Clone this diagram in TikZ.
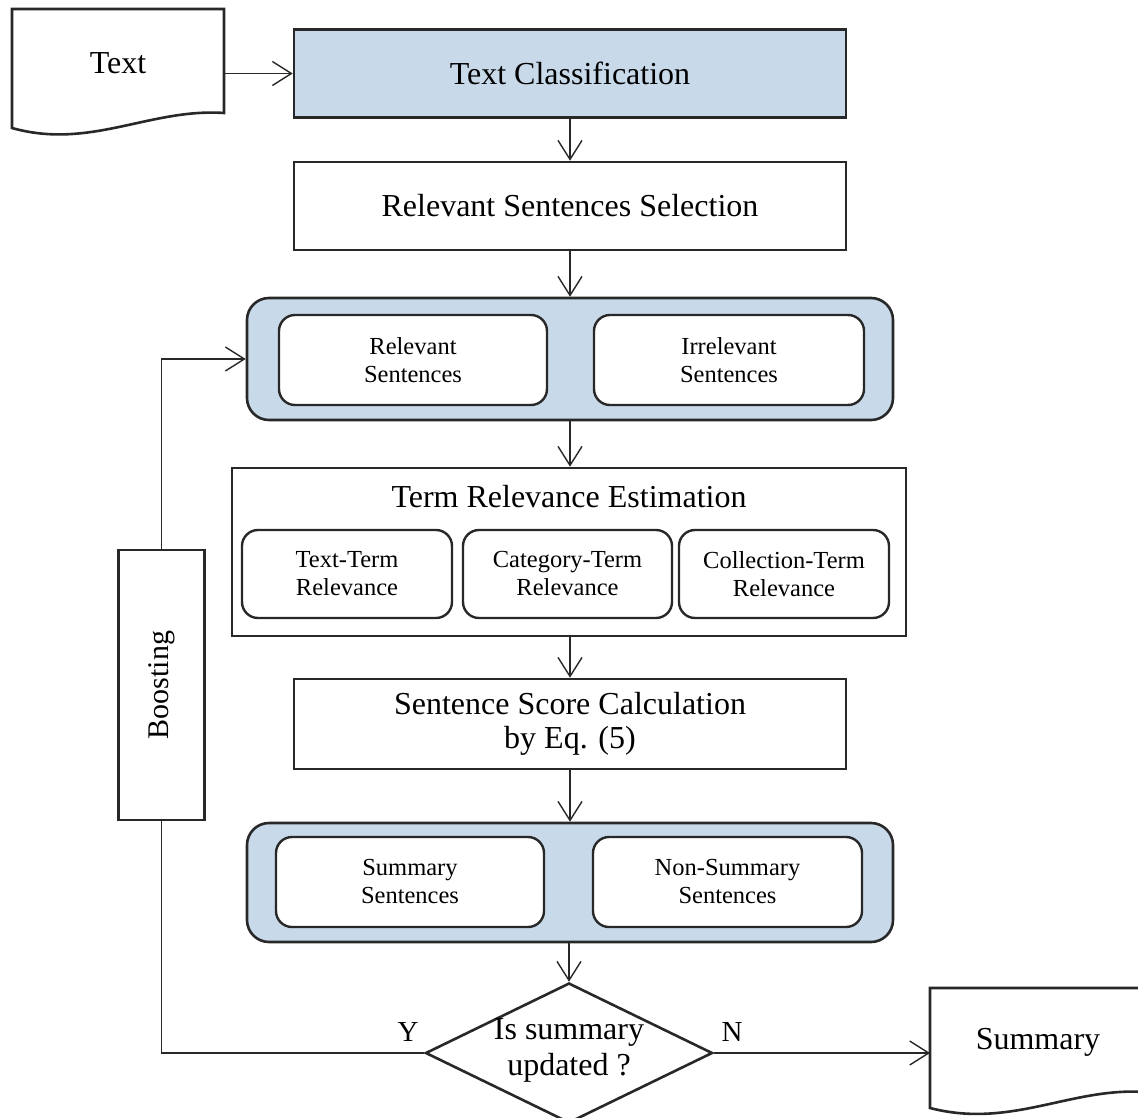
\documentclass[tikz,border=0pt]{standalone}
\usepackage{fontspec}
\usepackage{graphicx}
\setmainfont{Liberation Serif}
\usetikzlibrary{arrows.meta,shapes.geometric}
\definecolor{stageblue}{RGB}{200,217,233}
\definecolor{edgegray}{RGB}{40,40,40}
\newcommand{\bigtxt}{\fontsize{32}{34}\selectfont}
\newcommand{\smalltxt}{\fontsize{24.5}{28}\selectfont}
\newcommand{\ynfont}{\fontsize{29}{31}\selectfont}
\begin{document}
\begin{tikzpicture}[x=1pt,y=-1pt,
  box/.style={draw=edgegray, line width=2.6pt, rectangle, align=center, inner sep=0pt, font=\bigtxt},
  group/.style={draw=edgegray, line width=2.6pt, fill=stageblue, rounded corners=22pt, inner sep=0pt},
  sub/.style={draw=edgegray, line width=2.4pt, fill=white, rounded corners=16pt, align=center, inner sep=0pt, font=\smalltxt},
  conn/.style={draw=edgegray, line width=1.4pt},
  arr/.style={-{Straight Barb[length=19pt,width=24pt,line width=1.4pt]}},
  doc/.style={draw=edgegray, line width=2.6pt, fill=white},
  plain/.style={inner sep=0pt, align=center, font=\bigtxt}
]
\clip (0,0) rectangle (1138,1118);
\fill[white] (0,0) rectangle (1138,1118);

% input document
\draw[doc] (12,9) -- (224,9) -- (224,113)
  .. controls (150,108) and (90,150) .. (12,128) -- cycle;
\node[plain] (textdoc) at (118,63) {Text};
\coordinate (textout) at (224,73.5);

% main pipeline
\node[box, fill=stageblue, minimum width=552pt, minimum height=88pt] (tc) at (570,73.5) {Text Classification};
\node[box, minimum width=552pt, minimum height=88pt] (rss) at (570,206) {Relevant Sentences Selection};

\node[group, minimum width=646pt, minimum height=122pt] (grp1) at (570,359) {};
\node[sub, minimum width=268pt, minimum height=90pt] (rel) at (413,360) {Relevant\\Sentences};
\node[sub, minimum width=270pt, minimum height=90pt] (irr) at (729,360) {Irrelevant\\Sentences};

\node[box, minimum width=674pt, minimum height=168pt] (tre) at (569,552) {};
\node[plain] (tretitle) at (569,497) {Term Relevance Estimation};
\node[sub, minimum width=210pt, minimum height=88pt] (ttr) at (347,574) {Text-Term\\Relevance};
\node[sub, minimum width=209pt, minimum height=88pt] (ctr) at (567.5,574) {Category-Term\\Relevance};
\node[sub, minimum width=210pt, minimum height=88pt] (cotr) at (784,574) {Collection-Term\\Relevance};

\node[box, minimum width=552pt, minimum height=90pt] (score) at (570,724) {Sentence Score Calculation\\by Eq. (5)};

\node[group, minimum width=646pt, minimum height=119pt] (grp2) at (570,882.5) {};
\node[sub, minimum width=268pt, minimum height=90pt] (summ) at (410,882) {Summary\\Sentences};
\node[sub, minimum width=269pt, minimum height=90pt] (nonsumm) at (727.5,882) {Non-Summary\\Sentences};

% decision
\node[diamond, draw=edgegray, line width=2.6pt, minimum width=287pt, minimum height=140pt, inner sep=0pt] (dec) at (569,1053) {};
\node[plain, font=\fontsize{32}{36}\selectfont] (dectext) at (569,1050) {Is summary\\updated ?};
\node[plain, font=\ynfont] (ylab) at (408,1032) {Y};
\node[plain, font=\ynfont] (nlab) at (732,1032) {N};

% boosting loop
\node[box, minimum width=86pt, minimum height=270pt] (boost) at (161.5,685) {\fontsize{30}{32}\selectfont\rotatebox{90}{Boosting}};

% output document
\draw[doc] (930,988) -- (1145,988) -- (1145,1092)
  .. controls (1071,1087) and (1011,1129) .. (930,1108) -- cycle;
\node[plain] (sumdoc) at (1038,1042) {Summary};
\coordinate (sumin) at (930,1053);

% connectors
\draw[conn, arr] (textout) -- (tc.west);
\draw[conn, arr] (tc.south) -- (tc.south |- rss.north);
\draw[conn, arr] (rss.south) -- (rss.south |- grp1.north);
\draw[conn, arr] (grp1.south) -- (grp1.south |- tre.north);
\draw[conn, arr] (tre.south -| grp1.south) -- (score.north);
\draw[conn, arr] (score.south) -- (score.south |- grp2.north);
\draw[conn, arr] (grp2.south -| dec.north) -- (dec.north);
\draw[conn, arr] (dec.east) -- (sumin);
\draw[conn] (dec.west) -- (dec.west -| boost.south) -- (boost.south);
\draw[conn, arr] (boost.north) |- (grp1.west);
\end{tikzpicture}
\end{document}
